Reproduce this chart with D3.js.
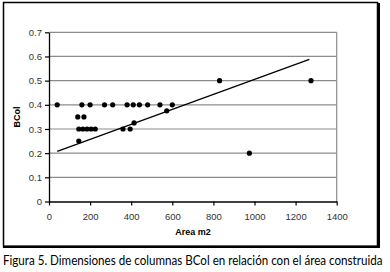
<!DOCTYPE html>
<html>
<head>
<meta charset="utf-8">
<script src="https://cdn.jsdelivr.net/npm/d3@7"></script>
<style>
  body { margin: 0; background: #fff; }
  svg { display: block; }
</style>
</head>
<body>
<div id="chart"></div>
<script>
// data
const areaM2 = [40, 160, 200, 270, 310, 380, 410, 440, 480, 540, 600,
  140, 170, 573, 414,
  145, 165, 185, 205, 225, 360, 395,
  145, 830, 1275, 975];
const bcol = [0.4, 0.4, 0.4, 0.4, 0.4, 0.4, 0.4, 0.4, 0.4, 0.4, 0.4,
  0.35, 0.35, 0.375, 0.325,
  0.3, 0.3, 0.3, 0.3, 0.3, 0.3, 0.3,
  0.25, 0.5, 0.5, 0.2];
const trendX = [40, 1267];
const trendY = [0.207, 0.588];
const xTicks = [0, 200, 400, 600, 800, 1000, 1200, 1400];
const yTicks = [0, 0.1, 0.2, 0.3, 0.4, 0.5, 0.6, 0.7];

const width = 390, height = 272;

const svg = d3.select('#chart')
  .append('svg')
  .attr('width', width)
  .attr('height', height);

// outer frame
svg.append('rect')
  .attr('x', 3.5).attr('y', 2.5)
  .attr('width', 374).attr('height', 244)
  .attr('fill', 'none').attr('stroke', '#000').attr('stroke-width', 1.5);
svg.append('line')
  .attr('x1', 378.5).attr('x2', 378.5).attr('y1', 3).attr('y2', 248)
  .attr('stroke', '#000').attr('stroke-width', 3);
svg.append('line')
  .attr('x1', 3).attr('x2', 380).attr('y1', 246.8).attr('y2', 246.8)
  .attr('stroke', '#000').attr('stroke-width', 2.5);

const x = d3.scaleLinear().domain([0, 1400]).range([49, 336.7]);
const y = d3.scaleLinear().domain([0, 0.7]).range([201.5, 32.3]);

// grid lines
svg.append('g')
  .selectAll('line')
  .data(yTicks.slice(1))
  .join('line')
    .attr('x1', x(0)).attr('x2', x(1400))
    .attr('y1', d => y(d)).attr('y2', d => y(d))
    .attr('stroke', '#8c8c8c').attr('stroke-width', 1.2);
svg.append('line')
  .attr('x1', x(1400)).attr('x2', x(1400))
  .attr('y1', y(0.7)).attr('y2', y(0))
  .attr('stroke', '#8c8c8c').attr('stroke-width', 1.2);

const fmtY = d => d === 0 ? '0' : d3.format('.1f')(d);

const xAxis = svg.append('g')
  .attr('transform', `translate(0,${y(0)})`)
  .call(d3.axisBottom(x).tickValues(xTicks).tickFormat(d3.format('d'))
    .tickSize(4).tickSizeOuter(0).tickPadding(8));
const yAxis = svg.append('g')
  .attr('transform', `translate(${x(0)},0)`)
  .call(d3.axisLeft(y).tickValues(yTicks).tickFormat(fmtY)
    .tickSize(4).tickSizeOuter(0).tickPadding(3));

[xAxis, yAxis].forEach(g => {
  g.select('.domain').attr('stroke', '#000').attr('stroke-width', 1.3);
  g.selectAll('.tick line').attr('stroke', '#000').attr('stroke-width', 1.2);
  g.selectAll('.tick text')
    .attr('font-family', 'Liberation Sans, Arial, sans-serif')
    .attr('font-size', 9.5)
    .attr('fill', '#333');
});

// trend line
svg.append('line')
  .attr('x1', x(trendX[0])).attr('y1', y(trendY[0]))
  .attr('x2', x(trendX[1])).attr('y2', y(trendY[1]))
  .attr('stroke', '#000').attr('stroke-width', 1.3);

// points
svg.append('g')
  .selectAll('circle')
  .data(areaM2.map((a, i) => [a, bcol[i]]))
  .join('circle')
    .attr('cx', d => x(d[0]))
    .attr('cy', d => y(d[1]))
    .attr('r', 2.6)
    .attr('fill', '#000');

// axis titles
svg.append('text')
  .attr('x', 193).attr('y', 235)
  .attr('text-anchor', 'middle')
  .attr('font-family', 'Liberation Sans, Arial, sans-serif')
  .attr('font-size', 9).attr('font-weight', 'bold')
  .text('Area m2');
svg.append('text')
  .attr('transform', 'translate(20,117) rotate(-90)')
  .attr('text-anchor', 'middle')
  .attr('font-family', 'Liberation Sans, Arial, sans-serif')
  .attr('font-size', 9).attr('font-weight', 'bold')
  .text('BCol');

// caption, squeezed horizontally to the reference's width
const caption = svg.append('text')
  .attr('font-family', 'Lato, sans-serif')
  .attr('font-size', 12.5)
  .text('Figura 5. Dimensiones de columnas BCol en relación con el área construida');
const capLen = caption.node().getComputedTextLength();
const sx = Math.min(1, 380 / capLen);
caption.attr('transform', `translate(3,265) scale(${sx},1)`);
</script>
</body>
</html>
